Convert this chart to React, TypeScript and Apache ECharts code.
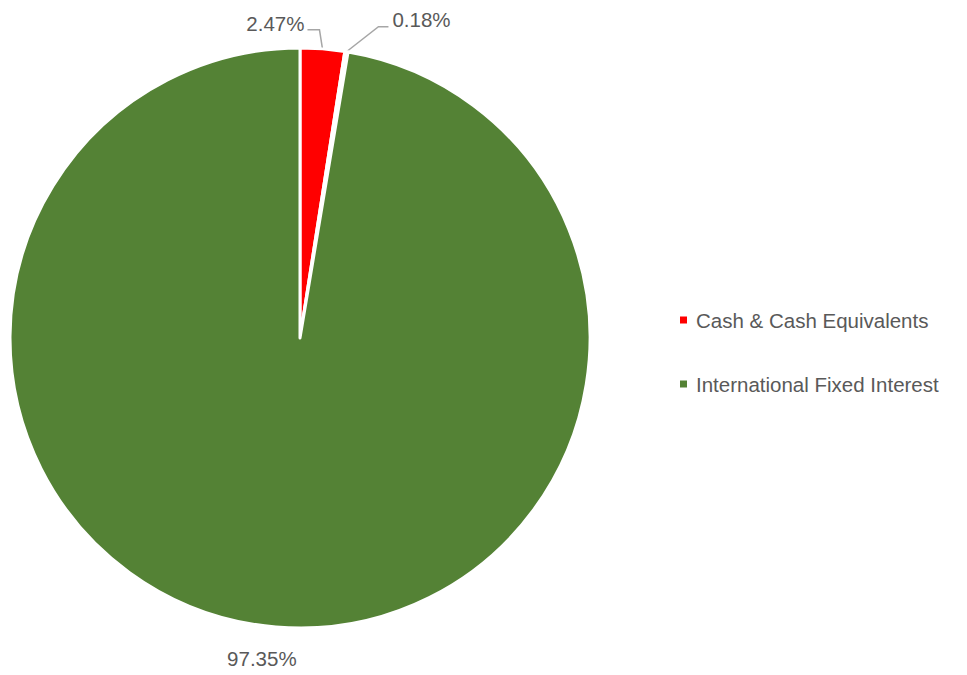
import React, { useEffect, useRef } from "react";
import * as echarts from "echarts";

const categories = ["Cash & Cash Equivalents", "Other", "International Fixed Interest"];
const values = [2.47, 0.18, 97.35];
const colors = ["#FF0000", "#FFFFFF", "#548235"];
const legendItems = ["Cash & Cash Equivalents", "International Fixed Interest"];

export default function App() {
  const ref = useRef<HTMLDivElement>(null);
  useEffect(() => {
    if (!ref.current) return;
    const chart = echarts.init(ref.current, undefined, { renderer: "svg" });
    const font = "Liberation Sans";
    chart.setOption({
      animation: false,
      backgroundColor: "#FFFFFF",
      legend: {
        data: legendItems,
        orient: "vertical",
        left: 678,
        top: 308,
        padding: 0,
        itemWidth: 9,
        itemHeight: 9,
        itemGap: 40,
        icon: "rect",
        textStyle: {
          color: "#595959",
          fontSize: 20.5,
          lineHeight: 24,
          fontFamily: font,
          padding: [0, 0, 0, 3],
        },
      },
      series: [
        {
          type: "pie",
          center: [300, 338],
          radius: 290,
          startAngle: 90,
          clockwise: true,
          avoidLabelOverlap: false,
          data: categories.map((c, i) => ({
            name: c,
            value: values[i],
            itemStyle: { color: colors[i] },
          })),
          itemStyle: { borderColor: "#FFFFFF", borderWidth: 3 },
          label: {
            show: true,
            position: "outside",
            formatter: (p: any) => p.value.toFixed(2) + "%",
            color: "#595959",
            fontSize: 20.5,
            fontFamily: font,
          },
          labelLine: {
            show: true,
            length: 20,
            length2: 10,
            lineStyle: { color: "#A6A6A6", width: 1.5 },
          },
          labelLayout: (params: any) => {
            const pts = params.labelLinePoints;
            if (!pts) return {};
            const p0 = pts[0];
            if (params.dataIndex === 0) {
              return {
                x: p0[0] - 18,
                y: p0[1] - 25,
                align: "right",
                verticalAlign: "middle",
                labelLinePoints: [p0, [p0[0] - 3, p0[1] - 19], [p0[0] - 15, p0[1] - 19]],
              };
            }
            if (params.dataIndex === 1) {
              return {
                x: p0[0] + 46,
                y: p0[1] - 32,
                align: "left",
                verticalAlign: "middle",
                labelLinePoints: [p0, [p0[0] + 32, p0[1] - 25], [p0[0] + 42, p0[1] - 25]],
              };
            }
            return {
              x: p0[0] - 14,
              y: p0[1] + 32,
              align: "center",
              verticalAlign: "middle",
              labelLinePoints: [p0, p0, p0],
            };
          },
        },
      ],
    });
    return () => chart.dispose();
  }, []);
  return (
    <div
      ref={ref}
      style={{ position: "fixed", left: 0, top: 0, width: 967, height: 675 }}
    />
  );
}
